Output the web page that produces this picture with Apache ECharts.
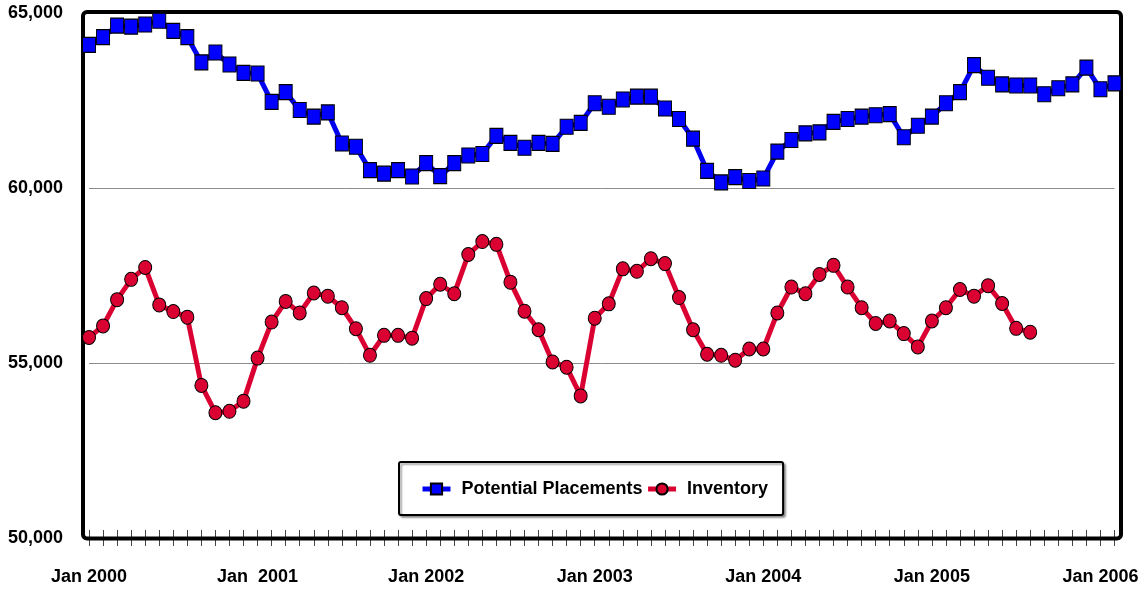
<!DOCTYPE html>
<html>
<head>
<meta charset="utf-8">
<script src="https://cdn.jsdelivr.net/npm/echarts@6.0.0/dist/echarts.min.js"></script>
<style>
html,body{margin:0;padding:0;background:#fff;}
#c{width:1147px;height:592px;}
</style>
</head>
<body>
<div id="c"></div>
<script>
var months = ['Jan','Feb','Mar','Apr','May','Jun','Jul','Aug','Sep','Oct','Nov','Dec'];
var categories = [];
for (var y = 2000; y <= 2006; y++) {
  for (var m = 0; m < 12; m++) {
    if (categories.length < 74) categories.push(months[m] + ' ' + y);
  }
}
var tickLabels = ['Jan 2000','Jan  2001','Jan 2002','Jan 2003','Jan 2004','Jan 2005','Jan 2006'];
var yTicks = [50000, 55000, 60000, 65000];

var potentialPlacements = [
  64090, 64310, 64640, 64610, 64670, 64780, 64490, 64310, 63590, 63870, 63530, 63290,
  63270, 62460, 62740, 62230, 62040, 62160, 61270, 61180, 60510, 60410, 60510, 60330,
  60710, 60340, 60710, 60930, 60970, 61490, 61290, 61150, 61290, 61260, 61750, 61860,
  62420, 62320, 62530, 62610, 62610, 62270, 61970, 61410, 60490, 60160, 60310, 60200,
  60270, 61040, 61370, 61560, 61590, 61890, 61970, 62040, 62080, 62110, 61450, 61780,
  62040, 62420, 62740, 63510, 63150, 62960, 62930, 62930, 62680, 62850, 62960, 63440,
  62820, 62990
];
var inventory = [
  55730, 56060, 56810, 57390, 57730, 56660, 56470, 56310, 54360, 53580, 53620, 53910,
  55140, 56170, 56760, 56430, 57000, 56910, 56580, 55980, 55220, 55790, 55790, 55710,
  56840, 57250, 56980, 58100, 58470, 58390, 57310, 56480, 55950, 55030, 54880, 54060,
  56280, 56690, 57690, 57620, 57980, 57840, 56870, 55950, 55250, 55220, 55080, 55400,
  55400, 56430, 57170, 56980, 57530, 57790, 57170, 56580, 56130, 56200, 55840, 55460,
  56200, 56580, 57100, 56910, 57210, 56700, 55990, 55880
];

var font = '"Liberation Sans", Arial, sans-serif';
var chart = echarts.init(document.getElementById('c'));
chart.setOption({
  animation: false,
  backgroundColor: '#fff',
  grid: { left: 89, right: 32.5, top: 13, bottom: 54, containLabel: false },
  graphic: [{
    type: 'rect', z: 1, silent: true,
    shape: { x: 83, y: 12, width: 1038, height: 526.5, r: 4 },
    style: { fill: 'none', stroke: '#000', lineWidth: 4 }
  }],
  legend: {
    left: 399, top: 462,
    padding: [18, 15, 17, 21],
    itemGap: 3,
    itemWidth: 28, itemHeight: 14,
    borderColor: '#000', borderWidth: 2, borderRadius: 2,
    shadowColor: 'rgba(0,0,0,0.35)', shadowOffsetX: 2, shadowOffsetY: 2, shadowBlur: 2,
    backgroundColor: '#fff',
    lineStyle: { width: 5 },
    textStyle: { fontFamily: font, fontWeight: 'bold', fontSize: 18, color: '#000', padding: [0, 0, 0, 6] },
    data: ['Potential Placements', 'Inventory']
  },
  xAxis: [{
    type: 'category', data: categories, boundaryGap: false,
    axisLine: { show: false },
    axisTick: { show: true, interval: 0, length: 8, inside: false, lineStyle: { color: '#444', width: 1 } },
    axisLabel: {
      interval: 11, margin: 30, color: '#000', fontFamily: font, fontWeight: 'bold', fontSize: 18,
      formatter: function (v, i) { return tickLabels[Math.round(i / 12)]; }
    },
    splitLine: { show: false }
  }, {
    type: 'category', data: categories, boundaryGap: false, position: 'bottom',
    axisLine: { show: false },
    axisTick: { show: true, interval: 0, length: 8, inside: true, lineStyle: { color: '#444', width: 1 } },
    axisLabel: { show: false },
    splitLine: { show: false }
  }],
  yAxis: {
    type: 'value', min: yTicks[0], max: yTicks[yTicks.length - 1], interval: 5000,
    axisLine: { show: false },
    axisTick: { show: false },
    axisLabel: {
      margin: 26, color: '#000', fontFamily: font, fontWeight: 'bold', fontSize: 18,
      formatter: function (v) { return v.toLocaleString('en-US'); }
    },
    splitLine: { show: true, lineStyle: { color: '#8c8c8c', width: 1 } }
  },
  series: [{
    name: 'Potential Placements', type: 'line', data: potentialPlacements, z: 3,
    symbol: 'rect', symbolSize: [13, 15], showAllSymbol: true,
    lineStyle: { color: '#0000F0', width: 5 },
    itemStyle: { color: '#0000FF', borderColor: '#000', borderWidth: 1 }
  }, {
    name: 'Inventory', type: 'line', data: inventory, z: 3,
    symbol: 'circle', symbolSize: [13, 14], showAllSymbol: true,
    lineStyle: { color: '#DB0032', width: 5 },
    itemStyle: { color: '#DB0032', borderColor: '#000', borderWidth: 1 }
  }]
});
</script>
</body>
</html>
